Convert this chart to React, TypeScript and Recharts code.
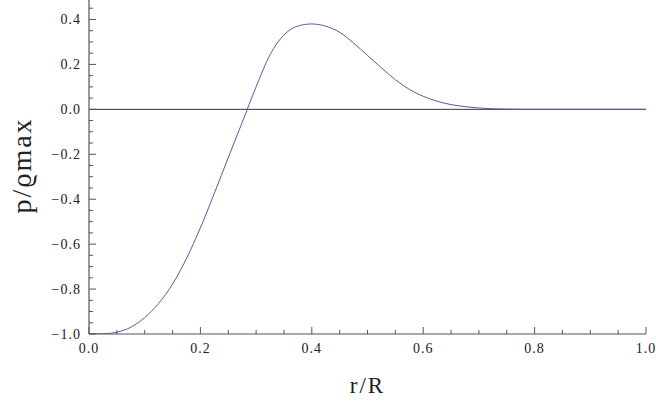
import React from 'react';
import { LineChart, Line, XAxis, YAxis, ReferenceLine, Label } from 'recharts';

// Radial position r/R and normalised pressure p/ϱmax
const rValues = [
  0, 0.025, 0.05, 0.075, 0.1, 0.125, 0.15, 0.175, 0.2, 0.225, 0.25, 0.275,
  0.3, 0.325, 0.35, 0.375, 0.4, 0.425, 0.45, 0.475, 0.5, 0.525, 0.55, 0.575,
  0.6, 0.625, 0.65, 0.675, 0.7, 0.725, 0.75, 0.775, 0.8, 0.85, 0.9, 0.95, 1.0,
];
const pValues = [
  -1.0, -0.999, -0.992, -0.97, -0.927, -0.864, -0.778, -0.664, -0.527, -0.374, -0.215, -0.058,
  0.1, 0.243, 0.331, 0.371, 0.38, 0.37, 0.343, 0.295, 0.24, 0.185, 0.132, 0.089,
  0.058, 0.036, 0.021, 0.012, 0.006, 0.0025, 0.001, 0.0003, 0, 0, 0, 0, 0,
];

// Tick positions (major ticks every 0.2 carry labels, minor ticks every 0.05)
const xTicks = [
  0, 0.05, 0.1, 0.15, 0.2, 0.25, 0.3, 0.35, 0.4, 0.45, 0.5,
  0.55, 0.6, 0.65, 0.7, 0.75, 0.8, 0.85, 0.9, 0.95, 1.0,
];
const yTicks = [
  -1.0, -0.95, -0.9, -0.85, -0.8, -0.75, -0.7, -0.65, -0.6, -0.55, -0.5,
  -0.45, -0.4, -0.35, -0.3, -0.25, -0.2, -0.15, -0.1, -0.05, 0,
  0.05, 0.1, 0.15, 0.2, 0.25, 0.3, 0.35, 0.4, 0.45,
];

const data = rValues.map((r, i) => ({ r, p: pValues[i] }));

const FRAME = '#555';
const TEXT = '#222';
const FONT = '"Liberation Serif", "DejaVu Serif", serif';
const MAJOR_LEN = 7;
const MINOR_LEN = 4;
const X_GAP = 9.5;
const Y_GAP = 8;

const isMajor = (v: number) => Math.abs(Math.round(v * 100) % 20) === 0;
const fmt = (v: number) => {
  const s = (Math.abs(v) < 1e-9 ? 0 : v).toFixed(1);
  return s.startsWith('-') ? '\u2212' + s.slice(1) : s;
};

const labelStyle = { fontFamily: FONT, fontSize: 14, letterSpacing: 1, fill: TEXT };

function BottomTick(props: any) {
  const { x, y, payload } = props;
  const v = payload.value as number;
  const major = isMajor(v);
  const axisY = y - X_GAP;
  return (
    <g>
      <line x1={x} x2={x} y1={axisY} y2={axisY - (major ? MAJOR_LEN : MINOR_LEN)} stroke={FRAME} strokeWidth={1} />
      {major && (
        <text x={x} y={y} dy="0.71em" textAnchor="middle" {...labelStyle}>
          {fmt(v)}
        </text>
      )}
    </g>
  );
}

function TopTick(props: any) {
  const { x, y, payload } = props;
  const v = payload.value as number;
  return <line x1={x} x2={x} y1={y} y2={y + (isMajor(v) ? MAJOR_LEN : MINOR_LEN)} stroke={FRAME} strokeWidth={1} />;
}

function LeftTick(props: any) {
  const { x, y, payload } = props;
  const v = payload.value as number;
  const major = isMajor(v);
  const axisX = x + Y_GAP;
  return (
    <g>
      <line x1={axisX} x2={axisX + (major ? MAJOR_LEN : MINOR_LEN)} y1={y} y2={y} stroke={FRAME} strokeWidth={1} />
      {major && (
        <text x={x} y={y} dy="0.355em" textAnchor="end" {...labelStyle}>
          {fmt(v)}
        </text>
      )}
    </g>
  );
}

function RightTick(props: any) {
  const { x, y, payload } = props;
  const v = payload.value as number;
  return <line x1={x} x2={x - (isMajor(v) ? MAJOR_LEN : MINOR_LEN)} y1={y} y2={y} stroke={FRAME} strokeWidth={1} />;
}

function YTitle(props: any) {
  const { viewBox } = props;
  const cx = viewBox.x + 31;
  const cy = viewBox.y + viewBox.height / 2;
  return (
    <text
      x={cx}
      y={cy}
      textAnchor="middle"
      transform={`rotate(-90, ${cx}, ${cy})`}
      fontFamily={FONT}
      fontSize={28}
      letterSpacing={2}
      fill={TEXT}
    >
      p/ϱmax
    </text>
  );
}

export default function App() {
  return (
    <div style={{ position: 'absolute', left: 0, top: 0, width: 656, height: 405, background: '#fff' }}>
      <LineChart width={656} height={405} data={data} margin={{ top: -3, right: 10, bottom: 41, left: 0 }}>
        <XAxis
          xAxisId="bottom"
          dataKey="r"
          type="number"
          domain={[0, 1]}
          ticks={xTicks}
          interval={0}
          height={30}
          tickSize={0}
          tickMargin={X_GAP}
          tick={<BottomTick />}
          axisLine={{ stroke: FRAME, strokeWidth: 1.2 }}
          tickLine={false}
          allowDataOverflow
        >
          <Label
            value="r/R"
            position="bottom"
            offset={13}
            style={{ fontFamily: FONT, fontSize: 23, letterSpacing: 2, fill: TEXT }}
          />
        </XAxis>
        <XAxis
          xAxisId="top"
          orientation="top"
          dataKey="r"
          type="number"
          domain={[0, 1]}
          ticks={xTicks}
          interval={0}
          height={0}
          tickSize={0}
          tickMargin={0}
          tick={<TopTick />}
          axisLine={{ stroke: FRAME, strokeWidth: 1.2 }}
          tickLine={false}
          allowDataOverflow
        />
        <YAxis
          yAxisId="left"
          type="number"
          domain={[-1, 0.5]}
          ticks={yTicks}
          interval={0}
          width={89}
          tickSize={0}
          tickMargin={Y_GAP}
          tick={<LeftTick />}
          axisLine={{ stroke: FRAME, strokeWidth: 1.2 }}
          tickLine={false}
          allowDataOverflow
          label={<YTitle />}
        />
        <YAxis
          yAxisId="right"
          orientation="right"
          type="number"
          domain={[-1, 0.5]}
          ticks={yTicks}
          interval={0}
          width={0}
          tickSize={0}
          tickMargin={0}
          tick={<RightTick />}
          axisLine={{ stroke: FRAME, strokeWidth: 1.2 }}
          tickLine={false}
          allowDataOverflow
        />
        <ReferenceLine xAxisId="bottom" yAxisId="left" y={0} stroke="#333" strokeWidth={1} />
        {/* unstroked copy that keeps the top and right frame axes active */}
        <Line
          xAxisId="top"
          yAxisId="right"
          dataKey="p"
          stroke="none"
          dot={false}
          activeDot={false}
          legendType="none"
          isAnimationActive={false}
        />
        <Line
          xAxisId="bottom"
          yAxisId="left"
          dataKey="p"
          type="monotone"
          stroke="#5858a4"
          strokeWidth={1}
          dot={false}
          isAnimationActive={false}
        />
      </LineChart>
    </div>
  );
}
